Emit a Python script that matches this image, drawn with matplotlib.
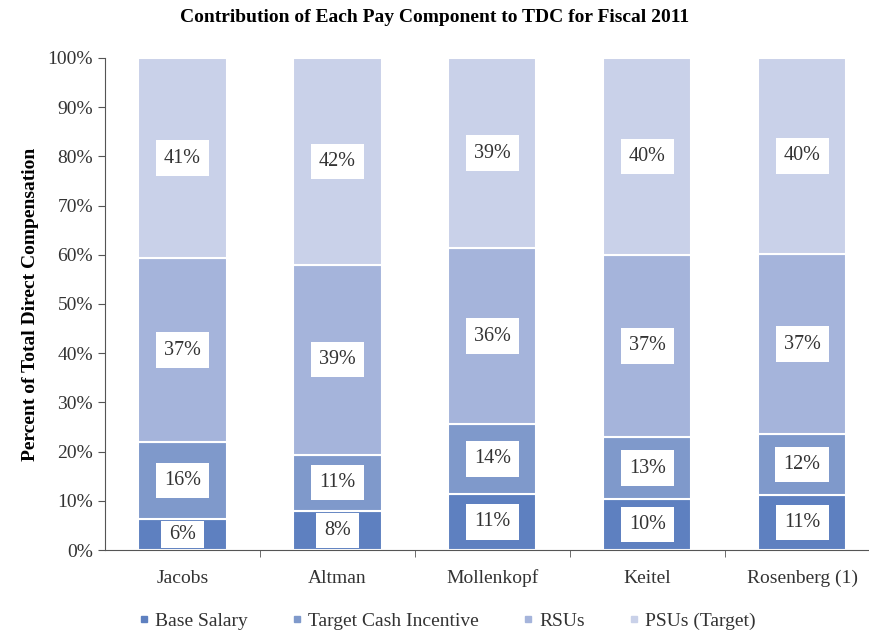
import numpy as np
from matplotlib import pyplot as plt
from matplotlib.lines import Line2D
from matplotlib.transforms import Bbox, TransformedBbox

plt.rcParams['font.family'] = ['Liberation Serif', 'DejaVu Serif']

names = ["Jacobs", "Altman", "Mollenkopf", "Keitel", "Rosenberg (1)"]
base = [6.3, 8.0, 11.4, 10.3, 11.2]
tci = [15.7, 11.4, 14.2, 12.7, 12.3]
rsu = [37.3, 38.6, 35.7, 37.0, 36.7]
psu = [40.7, 42.0, 38.7, 40.0, 39.8]
labels_base = ["6%", "8%", "11%", "10%", "11%"]
labels_tci = ["16%", "11%", "14%", "13%", "12%"]
labels_rsu = ["37%", "39%", "36%", "37%", "37%"]
labels_psu = ["41%", "42%", "39%", "40%", "40%"]
series = ["Base Salary", "Target Cash Incentive", "RSUs", "PSUs (Target)"]
colors = ["#5e80c0", "#7f99cb", "#a5b4db", "#c9d1e9"]

fig = plt.figure(figsize=(8.69, 6.33), dpi=100)
ax = fig.add_axes([0.1208, 0.1311, 0.879, 0.7773])

width = 0.57
x = np.arange(len(names))
bottom = np.zeros(len(names))
for vals, labs, col in zip([base, tci, rsu, psu],
                           [labels_base, labels_tci, labels_rsu, labels_psu],
                           colors):
    ax.bar(x, vals, width, bottom=bottom, color=col, edgecolor="white", linewidth=1.5)
    for xi, b, v, lab in zip(x, bottom, vals, labs):
        t = ax.text(xi, b + v / 2, lab, ha="center", va="center", fontsize=14.5, color="#333333",
                    bbox=dict(facecolor="white", edgecolor="none", pad=6))
        # keep label box inside its segment
        t.set_clip_box(TransformedBbox(Bbox.from_bounds(xi - width / 2, b + 0.4, width, v - 0.8),
                                       ax.transData))
        t.set_clip_on(True)
    bottom = bottom + np.array(vals)

ax.set_ylim(0, 100)
ax.set_xlim(-0.5, 4.43)
ax.set_yticks(np.arange(0, 101, 10))
ax.set_yticklabels([f"{v}%" for v in range(0, 101, 10)], fontsize=14, color="#333333")
ax.set_xticks(x)
ax.set_xticklabels(names, fontsize=14, color="#333333")
for lab in ax.get_xticklabels():
    lab.set_va("baseline")
ax.set_xticks(np.arange(0.5, 4.5, 1), minor=True)
ax.tick_params(axis="x", which="major", length=0, pad=24)
ax.tick_params(axis="x", which="minor", length=5, color="#555555")
ax.tick_params(axis="y", length=5, color="#555555")
for s in ["top", "right"]:
    ax.spines[s].set_visible(False)
ax.spines["left"].set_color("#555555")
ax.spines["bottom"].set_color("#555555")

ax.set_ylabel("Percent of Total Direct Compensation", fontsize=14, fontweight="bold", labelpad=6)
fig.text(0.5, 0.972, "Contribution of Each Pay Component to TDC for Fiscal 2011",
         ha="center", va="center", fontsize=14, fontweight="bold")

handles = [Line2D([], [], marker="s", linestyle="none", markersize=5, color=c) for c in colors]
fig.legend(handles, series, loc="center", bbox_to_anchor=(0.515, 0.019), ncol=4, frameon=False,
           fontsize=14, handlelength=0.5, handletextpad=0.3, columnspacing=2.3,
           labelcolor="#333333")

fig.savefig("out.png", dpi=100)
